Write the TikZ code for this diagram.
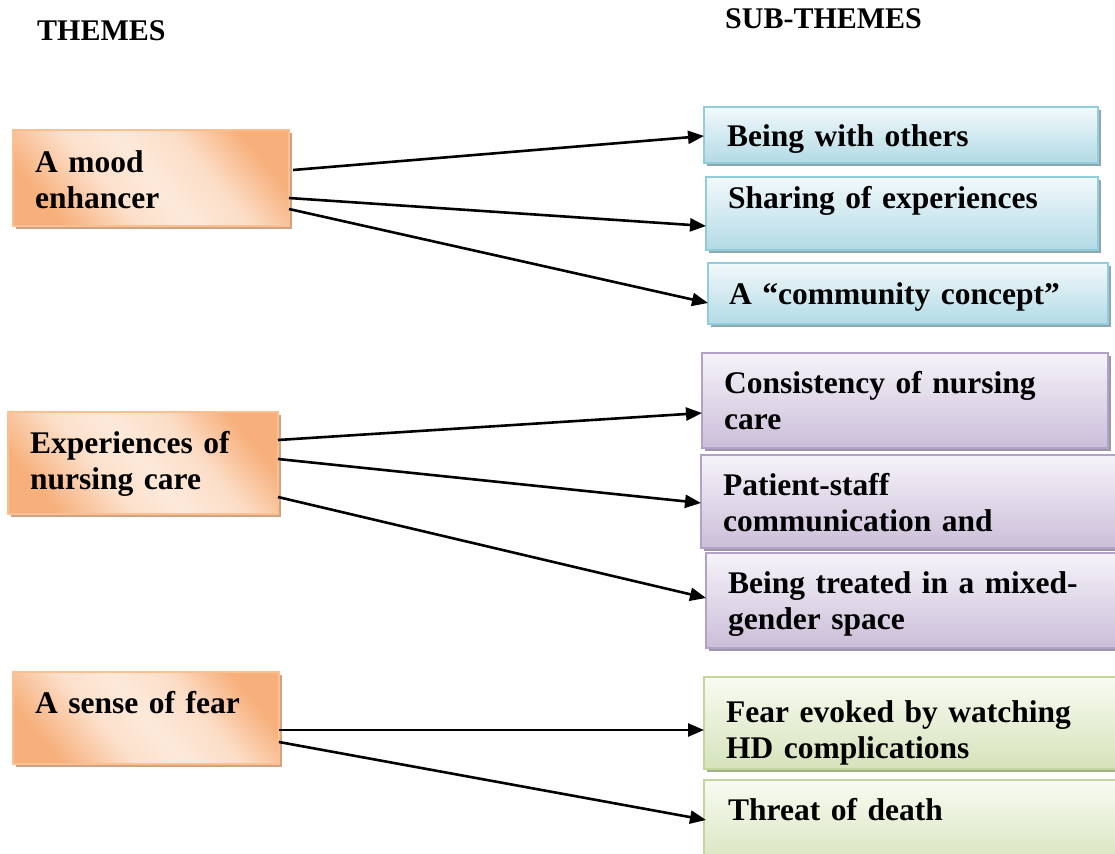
\documentclass[tikz,border=0pt]{standalone}
\usepackage{fontspec}
\setmainfont{Liberation Serif}
\usetikzlibrary{arrows.meta,shadows,calc}
\definecolor{odark}{HTML}{F7B07C}
\definecolor{olight}{HTML}{FDE9DA}
\definecolor{oborder}{HTML}{FAC090}
\definecolor{oshadow}{HTML}{CFA384}
\definecolor{bbot}{HTML}{B3DAE6}
\definecolor{btop}{HTML}{F2F9FB}
\definecolor{bborder}{HTML}{92CDDC}
\definecolor{bshadow}{HTML}{8FA8AE}
\definecolor{pbot}{HTML}{CBBED9}
\definecolor{ptop}{HTML}{F6F3F9}
\definecolor{pborder}{HTML}{B3A2C7}
\definecolor{pshadow}{HTML}{9E97AA}
\definecolor{gbot}{HTML}{D6E3BB}
\definecolor{gtop}{HTML}{F8FBF2}
\definecolor{gborder}{HTML}{C3D69B}
\definecolor{gshadow}{HTML}{A2B08A}
\pgfdeclarehorizontalshading{orangeshade}{100bp}{color(0bp)=(odark); color(25bp)=(odark); color(40bp)=(olight!85!odark); color(50bp)=(olight); color(62bp)=(olight!80!odark); color(75bp)=(odark); color(100bp)=(odark)}
\begin{document}
\begin{tikzpicture}[x=1pt,y=-1pt,
  box/.style={rectangle, inner sep=0pt, outer sep=0pt, anchor=north west, line width=2pt},
  obox/.style={box, draw=oborder, shading=orangeshade, shading angle=40,
    drop shadow={shadow xshift=3pt, shadow yshift=-3pt, fill=oshadow, opacity=1}},
  bbox/.style={box, draw=bborder, top color=btop, bottom color=bbot,
    drop shadow={shadow xshift=3pt, shadow yshift=-3pt, fill=bshadow, opacity=1}},
  pbox/.style={box, draw=pborder, top color=ptop, bottom color=pbot,
    drop shadow={shadow xshift=3pt, shadow yshift=-3pt, fill=pshadow, opacity=1}},
  gbox/.style={box, draw=gborder, top color=gtop, bottom color=gbot,
    drop shadow={shadow xshift=3pt, shadow yshift=-3pt, fill=gshadow, opacity=1}},
  txt/.style={anchor=base west, inner sep=0pt, text width=420pt, align=left,
    font=\fontsize{31.5}{36.5}\selectfont\bfseries},
  head/.style={anchor=base west, inner sep=0pt, font=\fontsize{30}{36}\selectfont\bfseries},
  arr/.style={line width=2.6pt, -{Triangle[length=16pt,width=13pt]}}
]
\useasboundingbox (0,0) rectangle (1115,853);
\clip (0,0) rectangle (1115,853);

% headings
\node[head] (hth) at (37,41) {THEMES};
\node[head] (hsub) at (725,29) {SUB-THEMES};

% theme boxes
\node[obox, minimum width=276pt, minimum height=96pt] (t1) at (13,130) {};
\node[obox, minimum width=270pt, minimum height=102pt] (t2) at (8,412) {};
\node[obox, minimum width=266pt, minimum height=92pt] (t3) at (13,672) {};

% sub-theme boxes
\node[bbox, minimum width=394pt, minimum height=56pt] (b1) at (704,107) {};
\node[bbox, minimum width=392pt, minimum height=73pt] (b2) at (706,177) {};
\node[bbox, minimum width=400pt, minimum height=61pt] (b3) at (708,263) {};
\node[pbox, minimum width=406pt, minimum height=95pt] (p1) at (702,353) {};
\node[pbox, minimum width=430pt, minimum height=93pt] (p2) at (701,455) {};
\node[pbox, minimum width=430pt, minimum height=95pt] (p3) at (706,553) {};
\node[gbox, minimum width=430pt, minimum height=92pt] (g1) at (704,677) {};
\node[gbox, minimum width=430pt, minimum height=90pt] (g2) at (704,780) {};

% texts
\node[txt] (t1t) at ($(t1.north west)+(22,42)$) {A mood\\enhancer};
\node[txt] (t2t) at ($(t2.north west)+(22,41)$) {Experiences of\\nursing care};
\node[txt] (t3t) at ($(t3.north west)+(22,41)$) {A sense of fear};
\node[txt] (b1t) at ($(b1.north west)+(23,40)$) {Being with others};
\node[txt] (b2t) at ($(b2.north west)+(22,31)$) {Sharing of experiences};
\node[txt] (b3t) at ($(b3.north west)+(21,41)$) {A ``community concept''};
\node[txt] (p1t) at ($(p1.north west)+(22,40)$) {Consistency of nursing\\care};
\node[txt] (p2t) at ($(p2.north west)+(22,40)$) {Patient-staff\\communication and};
\node[txt] (p3t) at ($(p3.north west)+(22,40)$) {Being treated in a mixed-\\gender space};
\node[txt] (g1t) at ($(g1.north west)+(22,45)$) {Fear evoked by watching\\HD complications};
\node[txt] (g2t) at ($(g2.north west)+(24,40)$) {Threat of death};

% connectors
\draw[arr] ($(t1.north east)+(4,40)$) -- ($(b1.north west)+(0,29)$);
\draw[arr] ($(t1.north east)+(0,68)$) -- ($(b2.north west)+(0,49)$);
\draw[arr] ($(t1.north east)+(0,79)$) -- ($(b3.north west)+(0,40)$);
\draw[arr] ($(t2.north east)+(0,28)$) -- ($(p1.north west)+(0,60)$);
\draw[arr] ($(t2.north east)+(0,47)$) -- ($(p2.north west)+(0,48)$);
\draw[arr] ($(t2.north east)+(0,85)$) -- ($(p3.north west)+(0,45)$);
\draw[arr] ($(t3.north east)+(0,58)$) -- ($(g1.north west)+(0,53)$);
\draw[arr] ($(t3.north east)+(0,70)$) -- ($(g2.north west)+(2,40)$);
\end{tikzpicture}
\end{document}
